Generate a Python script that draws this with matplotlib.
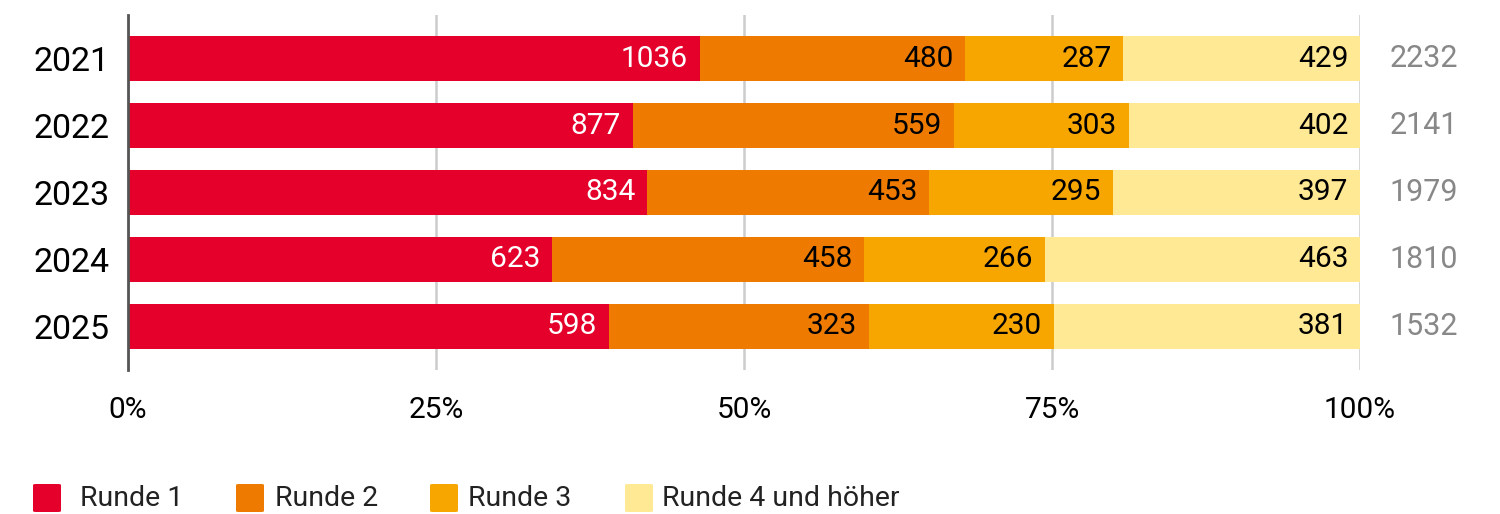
import matplotlib
matplotlib.use("Agg")
import matplotlib.pyplot as plt
from matplotlib.patches import FancyBboxPatch
import numpy as np

plt.rcParams['font.family'] = ['Roboto', 'DejaVu Sans']

years = ["2021", "2022", "2023", "2024", "2025"]
series_names = ["Runde 1", "Runde 2", "Runde 3", "Runde 4 und höher"]
runde1 = [1036, 877, 834, 623, 598]
runde2 = [480, 559, 453, 458, 323]
runde3 = [287, 303, 295, 266, 230]
runde4 = [429, 402, 397, 463, 381]
totals = [2232, 2141, 1979, 1810, 1532]
x_ticks = [0, 25, 50, 75, 100]
x_tick_labels = ["0%", "25%", "50%", "75%", "100%"]

colors = ["#E4002B", "#EE7B00", "#F7A600", "#FFE994"]
text_colors = ["white", "black", "black", "black"]

fig = plt.figure(figsize=(15, 5.14), dpi=100)
ax = fig.add_axes([128/1500, (514-370)/514, (1360-128)/1500, 355/514])

series = [runde1, runde2, runde3, runde4]
y = np.arange(len(years))
left = np.zeros(len(years))
tot = np.array(totals, dtype=float)
for vals, c, tc in zip(series, colors, text_colors):
    v = np.array(vals, dtype=float)
    w = v / tot * 100
    ax.barh(y, w, left=left, height=0.66, color=c, zorder=3, linewidth=0)
    for yi, (l, ww, val) in enumerate(zip(left, w, vals)):
        ax.text(l + ww - 0.95, yi, str(val), ha="right", va="center",
                color=tc, fontsize=21.5, zorder=4)
    left = left + w

for yi, t in enumerate(totals):
    ax.text(102.4, yi, str(t), ha="left", va="center", color="#888888",
            fontsize=22, clip_on=False)

ax.set_xlim(0, 100)
ax.set_ylim(4.65, -0.65)
ax.set_yticks(y)
ax.set_yticklabels(years, fontsize=24.5)
ax.set_xticks(x_ticks)
ax.set_xticklabels(x_tick_labels, fontsize=21.5)
ax.tick_params(axis="both", length=0)
ax.tick_params(axis="y", pad=13)
ax.tick_params(axis="x", pad=19)
for s in ["top", "right", "bottom"]:
    ax.spines[s].set_visible(False)
ax.spines["left"].set_color("#555555")
ax.spines["left"].set_linewidth(2)
ax.spines["left"].set_zorder(5)
ax.xaxis.grid(True, color="#cccccc", linewidth=1.8, zorder=0)
ax.set_axisbelow(True)

# legend
leg_x_boxes = [33, 236, 430, 625]
leg_x_text = [80, 275, 468, 662]
for name, c, bx, tx in zip(series_names, colors, leg_x_boxes, leg_x_text):
    fig.patches.append(FancyBboxPatch((bx/1500, (514-512)/514), 28/1500, 28/514,
                                      boxstyle="round,pad=0,rounding_size=0.002",
                                      transform=fig.transFigure, facecolor=c,
                                      edgecolor="none"))
    fig.text(tx/1500, (514-499)/514, name, ha="left", va="center", fontsize=20.5,
             color="#222222")

fig.savefig("out.png", dpi=100)
